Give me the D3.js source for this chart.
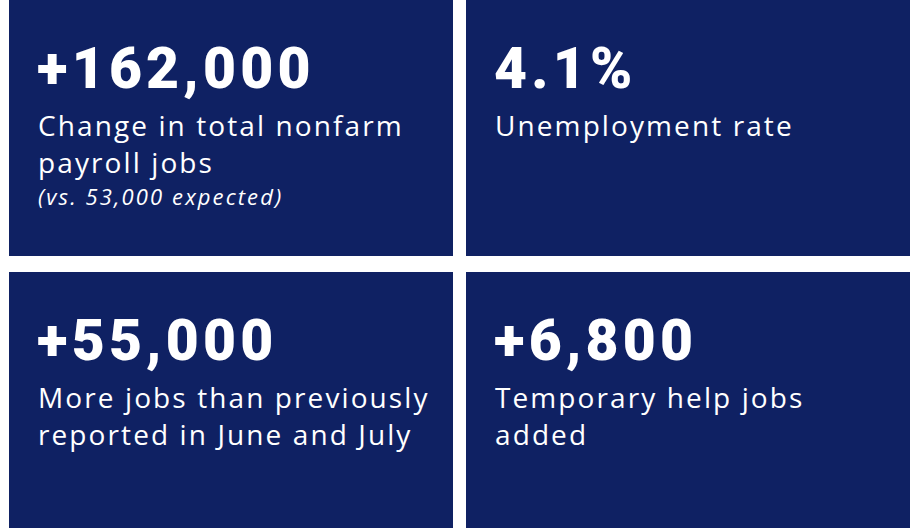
<!DOCTYPE html>
<html>
<head>
<meta charset="utf-8">
<script src="https://cdn.jsdelivr.net/npm/d3@7"></script>
<style>
  body { margin: 0; background: #fff; }
</style>
</head>
<body>
<svg id="chart" width="910" height="528"></svg>
<script>
// tile values, left to right, top to bottom
var values = ["+162,000", "4.1%", "+55,000", "+6,800"]
var labels = [
    ["Change in total nonfarm", "payroll jobs"],
    ["Unemployment rate"],
    ["More jobs than previously", "reported in June and July"],
    ["Temporary help jobs", "added"]
]
var notes = ["(vs. 53,000 expected)", "", "", ""]

var svg = d3.select("#chart")

var col = d3.scaleOrdinal().domain([0, 1]).range([9, 466])
var row = d3.scaleOrdinal().domain([0, 1]).range([0, 272])
var tileW = 444, tileH = 256

var tiles = svg.selectAll(".tile").data(values).enter()
    .append("g")
    .attr("class", "tile")
    .attr("transform", function(d, i) { return "translate(" + col(i % 2) + "," + row(Math.floor(i / 2)) + ")" })

tiles.append("rect")
    .attr("width", tileW)
    .attr("height", tileH)
    .attr("fill", "#0f2163")

tiles.append("text")
    .attr("x", 28)
    .attr("y", 88)
    .attr("fill", "#fff")
    .attr("font-family", "Roboto, sans-serif")
    .attr("font-weight", 900)
    .attr("font-size", 57)
    .attr("letter-spacing", 4.2)
    .text(function(d) { return d })

tiles.each(function(d, i) {
    var g = d3.select(this)
    labels[i].forEach(function(line, j) {
        g.append("text")
            .attr("x", 29)
            .attr("y", 136 + j * 37)
            .attr("fill", "#fff")
            .attr("font-family", "'Open Sans', sans-serif")
            .attr("font-size", 28)
            .attr("letter-spacing", 2.1)
            .text(line)
    })
    if (notes[i]) {
        g.append("text")
            .attr("x", 29)
            .attr("y", 205)
            .attr("fill", "#fff")
            .attr("font-family", "'Open Sans', sans-serif")
            .attr("font-style", "italic")
            .attr("font-size", 22)
            .attr("letter-spacing", 2.1)
            .text(notes[i])
    }
})
</script>
</body>
</html>
